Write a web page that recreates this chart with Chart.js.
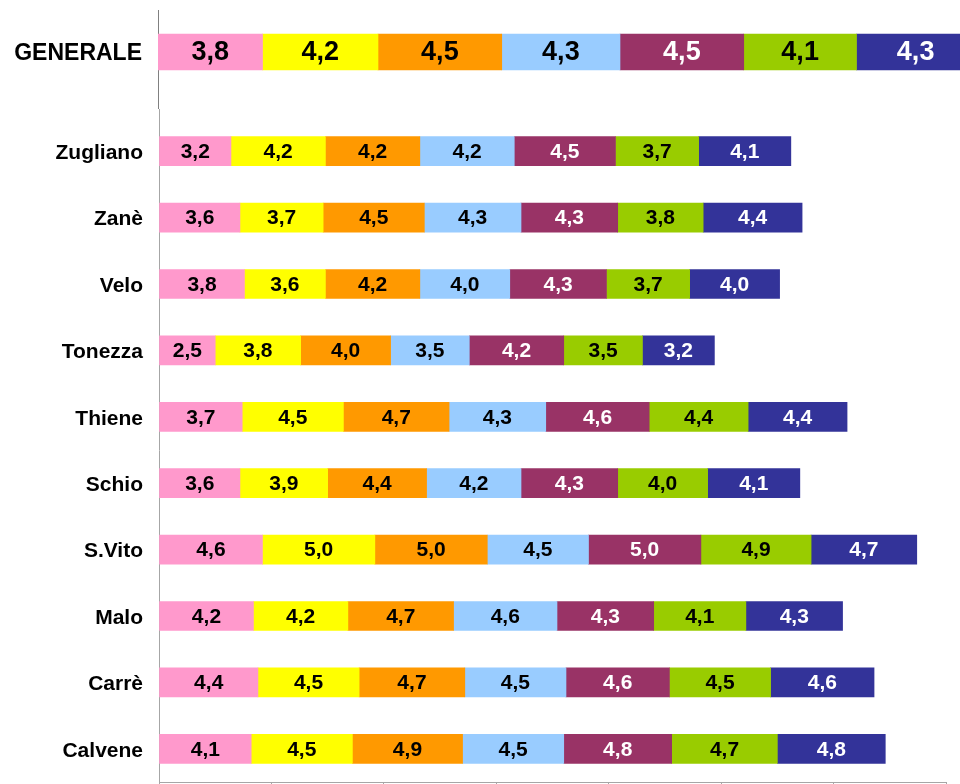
<!DOCTYPE html>
<html>
<head>
<meta charset="utf-8">
<script src="https://cdn.jsdelivr.net/npm/chart.js@4/dist/chart.umd.min.js"></script>
<style>
  body { margin: 0; background: #fff; overflow: hidden; width: 960px; height: 784px; }
  #top { position: absolute; left: 0; top: 0; }
  #bottom { position: absolute; left: 0; top: 109px; }
</style>
</head>
<body>
<canvas id="top" width="1000" height="109"></canvas>
<canvas id="bottom" width="960" height="713"></canvas>
<script>
// dati
const categorie = ["Zugliano", "Zanè", "Velo", "Tonezza", "Thiene", "Schio", "S.Vito", "Malo", "Carrè", "Calvene"];
const rosa    = [3.2, 3.6, 3.8, 2.5, 3.7, 3.6, 4.6, 4.2, 4.4, 4.1];
const giallo  = [4.2, 3.7, 3.6, 3.8, 4.5, 3.9, 5.0, 4.2, 4.5, 4.5];
const arancio = [4.2, 4.5, 4.2, 4.0, 4.7, 4.4, 5.0, 4.7, 4.7, 4.9];
const azzurro = [4.2, 4.3, 4.0, 3.5, 4.3, 4.2, 4.5, 4.6, 4.5, 4.5];
const prugna  = [4.5, 4.3, 4.3, 4.2, 4.6, 4.3, 5.0, 4.3, 4.6, 4.8];
const verde   = [3.7, 3.8, 3.7, 3.5, 4.4, 4.0, 4.9, 4.1, 4.5, 4.7];
const blu     = [4.1, 4.4, 4.0, 3.2, 4.4, 4.1, 4.7, 4.3, 4.6, 4.8];

const generaleLabel = ["GENERALE"];
const generale = [3.8, 4.2, 4.5, 4.3, 4.5, 4.1, 4.3]; // un valore per serie

const xMax = 35;
const xStep = 5;

const serie = [rosa, giallo, arancio, azzurro, prugna, verde, blu];
const colori = ["#FF99CC", "#FFFF00", "#FF9900", "#99CCFF", "#993366", "#99CC00", "#333399"];
const coloriTesto = ["#000", "#000", "#000", "#000", "#fff", "#000", "#fff"];

Chart.defaults.font.family = "'Liberation Sans', Arial, sans-serif";
Chart.defaults.color = "#000";

// scrive il valore al centro di ogni barra
const valueLabels = {
  id: "valueLabels",
  afterDatasetsDraw(chart, args, opts) {
    const ctx = chart.ctx;
    ctx.save();
    ctx.font = opts.font;
    ctx.textAlign = "center";
    ctx.textBaseline = "middle";
    chart.data.datasets.forEach((ds, i) => {
      chart.getDatasetMeta(i).data.forEach((bar, j) => {
        const p = bar.getProps(["x", "y", "base"], true);
        ctx.fillStyle = coloriTesto[i];
        ctx.fillText(ds.data[j].toFixed(1).replace(".", ","), (p.x + p.base) / 2, p.y + 1);
      });
    });
    ctx.restore();
  },
};

// prolunga la linea dell'asse y fuori dall'area del grafico
const axisStub = {
  id: "axisStub",
  afterDraw(chart, args, opts) {
    const ctx = chart.ctx;
    const x = Math.round(chart.chartArea.left - 0.5) + 0.5;
    ctx.save();
    ctx.strokeStyle = opts.color;
    ctx.lineWidth = 1;
    ctx.beginPath();
    ctx.moveTo(x, opts.from === "bottom" ? chart.chartArea.bottom : 0);
    ctx.lineTo(x, opts.from === "bottom" ? chart.height : chart.chartArea.top);
    ctx.stroke();
    ctx.restore();
  },
};

function fitY(width) {
  return (s) => {
    s.width = width;
    s.paddingTop = 0;
    s.paddingBottom = 0;
  };
}

new Chart(document.getElementById("top"), {
  type: "bar",
  data: {
    labels: generaleLabel,
    datasets: generale.map((v, i) => ({
      data: [v],
      backgroundColor: colori[i],
      borderWidth: 0,
      barThickness: 36,
    })),
  },
  plugins: [valueLabels, axisStub],
  options: {
    indexAxis: "y",
    responsive: false,
    animation: false,
    layout: { padding: { top: 10, bottom: 15, right: 17 } },
    plugins: {
      legend: { display: false },
      tooltip: { enabled: false },
      valueLabels: { font: "bold 27px 'Liberation Sans', Arial, sans-serif" },
      axisStub: { color: "#808080", from: "bottom" },
    },
    scales: {
      x: { stacked: true, display: false, min: 0, max: 30 },
      y: {
        stacked: true,
        afterFit: fitY(158),
        grid: { drawOnChartArea: false, drawTicks: false },
        border: { color: "#808080" },
        ticks: { padding: 16, labelOffset: 2, font: { size: 23, weight: "bold" } },
      },
    },
  },
});

new Chart(document.getElementById("bottom"), {
  type: "bar",
  data: {
    labels: categorie,
    datasets: serie.map((s, i) => ({
      data: s,
      backgroundColor: colori[i],
      borderWidth: 0,
      barThickness: 29,
    })),
  },
  plugins: [valueLabels, axisStub],
  options: {
    indexAxis: "y",
    responsive: false,
    animation: false,
    layout: { padding: { top: 9, right: 14 } },
    plugins: {
      legend: { display: false },
      tooltip: { enabled: false },
      valueLabels: { font: "bold 21px 'Liberation Sans', Arial, sans-serif" },
      axisStub: { color: "#a6a6a6", from: "top" },
    },
    scales: {
      x: {
        stacked: true,
        min: 0,
        max: xMax,
        afterFit: (s) => { s.height = 40; },
        grid: { drawOnChartArea: false, tickLength: 6, color: "#a6a6a6" },
        border: { color: "#a6a6a6" },
        ticks: { stepSize: xStep, font: { size: 14, weight: "bold" } },
      },
      y: {
        stacked: true,
        afterFit: fitY(159),
        grid: { drawOnChartArea: false, drawTicks: false },
        border: { color: "#a6a6a6" },
        ticks: { padding: 16, labelOffset: 2, font: { size: 21, weight: "bold" } },
      },
    },
  },
});
</script>
</body>
</html>
